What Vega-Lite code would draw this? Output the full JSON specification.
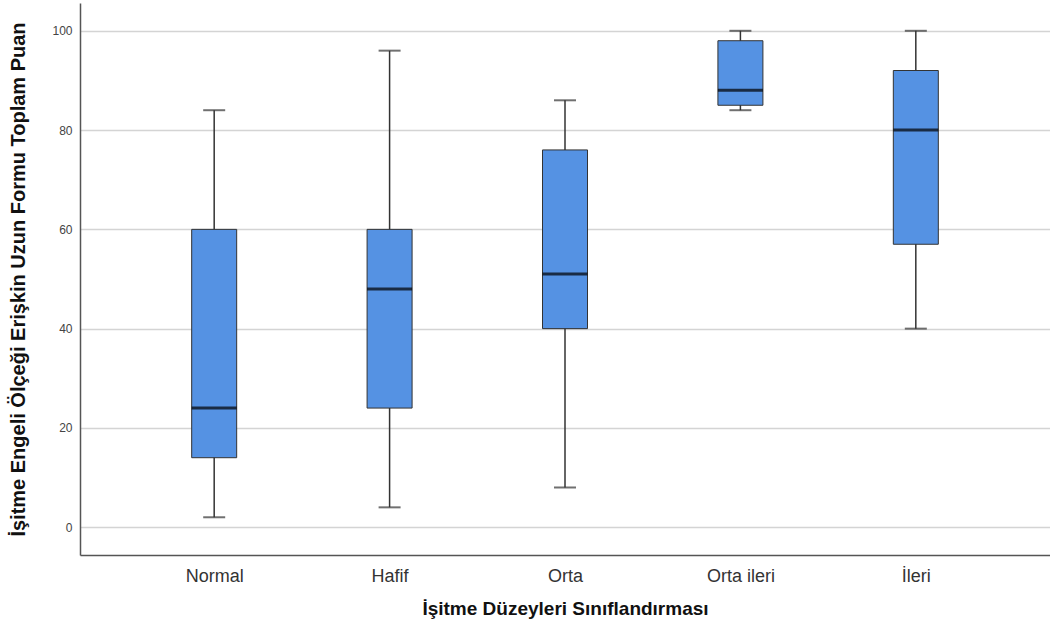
{
  "$schema": "https://vega.github.io/schema/vega-lite/v6.json",
  "width": 970,
  "height": 552,
  "autosize": {"type": "none"},
  "padding": {"left": 80, "top": 3, "right": 0, "bottom": 81},
  "background": "white",
  "config": {
    "view": {"stroke": null},
    "font": "Liberation Sans"
  },
  "data": {
    "values": [
      {"grup": "Normal", "min": 2, "q1": 14, "median": 24, "q3": 60, "max": 84},
      {"grup": "Hafif", "min": 4, "q1": 24, "median": 48, "q3": 60, "max": 96},
      {"grup": "Orta", "min": 8, "q1": 40, "median": 51, "q3": 76, "max": 86},
      {"grup": "Orta ileri", "min": 84, "q1": 85, "median": 88, "q3": 98, "max": 100},
      {"grup": "İleri", "min": 40, "q1": 57, "median": 80, "q3": 92, "max": 100}
    ]
  },
  "encoding": {
    "x": {
      "field": "grup",
      "type": "nominal",
      "sort": ["Normal", "Hafif", "Orta", "Orta ileri", "İleri"],
      "scale": {"type": "point", "padding": 0.765},
      "axis": {
        "title": "İşitme Düzeyleri Sınıflandırması",
        "titleFontSize": 19,
        "titleFontWeight": "bold",
        "titleColor": "#111",
        "titlePadding": 14,
        "labelFontSize": 18,
        "labelColor": "#333",
        "labelPadding": 12,
        "labelAngle": 0,
        "ticks": false,
        "domainColor": "#555",
        "domainWidth": 1.5,
        "grid": false
      }
    }
  },
  "layer": [
    {
      "mark": {"type": "rule", "color": "#333", "strokeWidth": 1.5},
      "encoding": {
        "y": {
          "field": "min",
          "type": "quantitative",
          "scale": {"domain": [-5.6, 105.6], "nice": false, "zero": false},
          "axis": {
            "title": "İşitme Engeli Ölçeği Erişkin Uzun Formu Toplam Puan",
            "titleFontSize": 20,
            "titleFontWeight": "bold",
            "titleColor": "#111",
            "titlePadding": 23,
            "values": [0, 20, 40, 60, 80, 100],
            "labelFontSize": 12,
            "labelColor": "#444",
            "labelPadding": 8,
            "ticks": false,
            "domainColor": "#555",
            "domainWidth": 1.5,
            "grid": true,
            "gridColor": "#d4d4d4",
            "gridWidth": 1.5
          }
        },
        "y2": {"field": "max"}
      }
    },
    {
      "mark": {"type": "tick", "color": "#333", "size": 22, "thickness": 2, "orient": "horizontal"},
      "encoding": {"y": {"field": "min", "type": "quantitative"}}
    },
    {
      "mark": {"type": "tick", "color": "#333", "size": 22, "thickness": 2, "orient": "horizontal"},
      "encoding": {"y": {"field": "max", "type": "quantitative"}}
    },
    {
      "mark": {"type": "bar", "size": 45, "fill": "#5592e3", "stroke": "#333", "strokeWidth": 1},
      "encoding": {
        "y": {"field": "q1", "type": "quantitative"},
        "y2": {"field": "q3"}
      }
    },
    {
      "mark": {"type": "tick", "color": "#000", "size": 45, "thickness": 3, "orient": "horizontal"},
      "encoding": {"y": {"field": "median", "type": "quantitative"}}
    }
  ]
}
